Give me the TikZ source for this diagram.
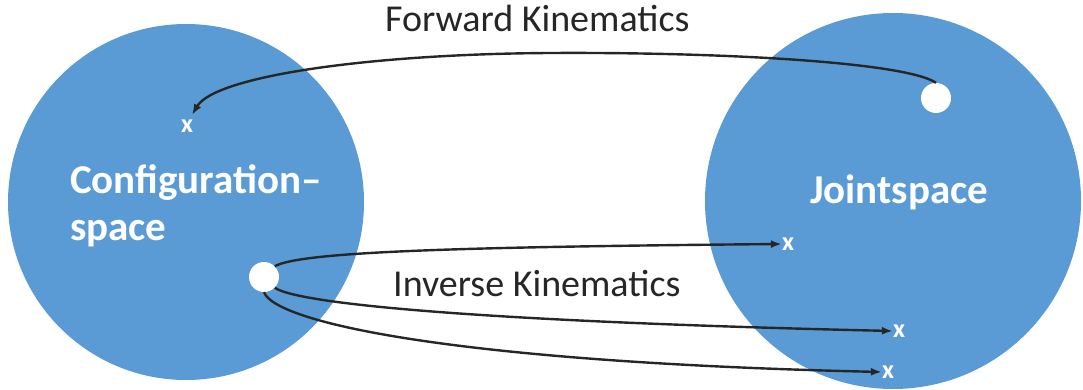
\documentclass[tikz,border=0pt]{standalone}
\usepackage{fontspec}
\setmainfont{Carlito}
\usetikzlibrary{arrows.meta}
\definecolor{spaceblue}{HTML}{5B9BD5}
\definecolor{labelgray}{HTML}{262626}
\tikzset{
  space/.style={circle,fill=spaceblue,draw=none,inner sep=0pt},
  dot/.style={circle,fill=white,draw=none,minimum size=30pt,inner sep=0pt},
  xmark/.style={text=white,font=\bfseries\fontsize{26}{26}\selectfont,inner sep=0pt},
  spacelabel/.style={text=white,font=\bfseries\fontsize{41}{47}\selectfont,align=left,inner sep=0pt},
  arrowlabel/.style={text=labelgray,font=\fontsize{38}{38}\selectfont,inner sep=0pt},
  conn/.style={line width=2.4pt,draw=black!85,-{Latex[length=11pt,width=8pt]}}
}
\begin{document}
\begin{tikzpicture}[x=1pt,y=-1pt]
\useasboundingbox (0,0) rectangle (1083,390);
\node[space,minimum size=356pt] (cs) at (186,202) {};
\node[space,minimum size=376pt] (js) at (893,201) {};
\node[spacelabel,anchor=base west] (cl) at (70,240) {Configuration–\\space};
\node[spacelabel,anchor=base west] (jl) at (810,203) {Jointspace};
\node[dot] (cdot) at (264,277) {};
\node[dot] (jdot) at (936,98) {};
\node[xmark] (xa) at (187,126) {x};
\node[xmark] (x1) at (788,244) {x};
\node[xmark] (x2) at (899,331) {x};
\node[xmark] (x3) at (888,372) {x};
\node[arrowlabel,anchor=base west] (fk) at (385,32) {Forward Kinematics};
\node[arrowlabel,anchor=base west] (ik) at (393,296) {Inverse Kinematics};
\coordinate (xatip) at ([shift={(5,-11)}]xa.center);
\draw[conn] (jdot.north) .. controls (905,62) and (720,52) .. (550,53)
  .. controls (370,54) and (215,76) .. (xatip);
\draw[conn] (cdot.north east) .. controls (300,252) and (450,247) .. (x1.west);
\draw[conn] (cdot.south east) .. controls (300,305) and (500,322) .. (x2.west);
\draw[conn] (cdot.south) .. controls (275,322) and (450,362) .. (x3.west);
\end{tikzpicture}
\end{document}
